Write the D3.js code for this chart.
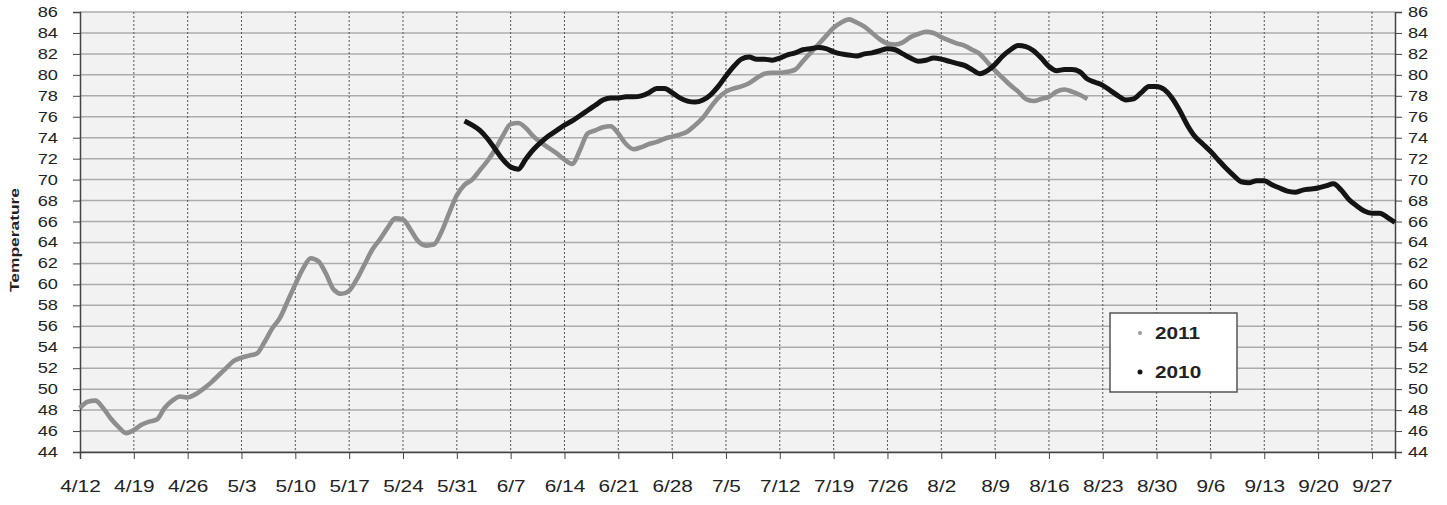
<!DOCTYPE html>
<html>
<head>
<meta charset="utf-8">
<style>
    body {margin:0; background:#fff;}
    text {font-family:"Liberation Sans", Arial, sans-serif;}
</style>
<script src="https://d3js.org/d3.v7.min.js"></script>
</head>
<body>
<script>
    // daily temperatures, 2011 starts 4/12, 2010 starts 6/1
    var start2011 = "2011-04-12";
    var temps2011 = [48.2, 48.8, 48.9, 48.2, 47.2, 46.4, 45.8, 46.1, 46.6, 46.9,
        47.1, 48.2, 48.9, 49.3, 49.2, 49.5, 50.0, 50.6, 51.3, 52.0,
        52.7, 53.0, 53.2, 53.4, 54.5, 55.8, 56.8, 58.4, 60.0, 61.5,
        62.5, 62.2, 61.0, 59.5, 59.1, 59.4, 60.5, 61.9, 63.3, 64.3,
        65.4, 66.3, 66.2, 65.2, 64.1, 63.7, 63.8, 65.0, 66.8, 68.5,
        69.5, 70.0, 70.9, 71.8, 72.9, 74.2, 75.3, 75.4, 74.9, 74.1,
        73.5, 73.0, 72.5, 71.9, 71.5, 72.8, 74.4, 74.7, 75.0, 75.1,
        74.4, 73.4, 72.9, 73.1, 73.4, 73.6, 73.9, 74.1, 74.3, 74.6,
        75.2, 75.9, 76.9, 77.8, 78.4, 78.7, 78.9, 79.2, 79.7, 80.1,
        80.2, 80.2, 80.3, 80.5, 81.3, 82.1, 82.9, 83.7, 84.5, 85.0,
        85.3, 85.0, 84.6, 84.0, 83.4, 83.0, 82.9, 83.1, 83.6, 83.9,
        84.1, 84.0, 83.6, 83.3, 83.0, 82.8, 82.4, 82.0, 81.2, 80.4,
        79.7, 79.0, 78.4, 77.7, 77.5, 77.7, 77.9, 78.4, 78.6, 78.4,
        78.1, 77.7];

    var start2010 = "2011-06-01";
    var temps2010 = [75.6, 75.2, 74.7, 73.9, 72.9, 71.9, 71.2, 71.0, 72.0, 72.9,
        73.6, 74.2, 74.7, 75.2, 75.6, 76.1, 76.6, 77.1, 77.6, 77.8,
        77.8, 77.9, 77.9, 78.0, 78.3, 78.7, 78.7, 78.3, 77.8, 77.5,
        77.4, 77.6, 78.1, 78.9, 79.9, 80.8, 81.5, 81.7, 81.5, 81.5,
        81.4, 81.6, 81.9, 82.1, 82.4, 82.5, 82.6, 82.5, 82.2, 82.0,
        81.9, 81.8, 82.0, 82.1, 82.3, 82.5, 82.4, 82.0, 81.6, 81.3,
        81.4, 81.6, 81.5, 81.3, 81.1, 80.9, 80.5, 80.1, 80.4, 81.0,
        81.8, 82.4, 82.8, 82.7, 82.3, 81.6, 80.8, 80.4, 80.5, 80.5,
        80.3, 79.6, 79.3, 79.0, 78.5, 78.0, 77.6, 77.7, 78.3, 78.9,
        78.9, 78.6, 77.8, 76.6, 75.2, 74.1, 73.4, 72.7, 71.9, 71.1,
        70.4, 69.8, 69.7, 69.9, 69.9, 69.5, 69.2, 68.9, 68.8, 69.0,
        69.1, 69.2, 69.4, 69.6, 69.0, 68.1, 67.5, 67.0, 66.8, 66.8,
        66.4, 65.9];

    var xTickLabels = ["4/12","4/19","4/26","5/3","5/10","5/17","5/24","5/31","6/7","6/14",
        "6/21","6/28","7/5","7/12","7/19","7/26","8/2","8/9","8/16","8/23",
        "8/30","9/6","9/13","9/20","9/27"];
    var yTicks = d3.range(44, 87, 2);
    var legendNames = ["2011", "2010"];

    var width = 1447, height = 505;
    var pLeft = 80, pRight = 1395, pTop = 12, pBottom = 452;
    var stretch = 1.3;   // picture is wider than the font

    var parse = d3.timeParse("%Y-%m-%d");
    var toDate = function(s){ return parse("2011-" + s.replace("/", "-")); };

    var x = d3.scaleTime()
        .domain([parse("2011-04-12"), parse("2011-09-30")])
        .range([pLeft, pRight]);
    var y = d3.scaleLinear().domain([44, 86]).range([pBottom, pTop]);

    function series(startStr, vals){
        var s = parse(startStr);
        return vals.map(function(v, i){ return {date: d3.timeDay.offset(s, i), t: v}; });
    }
    var s2011 = series(start2011, temps2011);
    var s2010 = series(start2010, temps2010);

    var svg = d3.select("body").append("svg")
        .attr("width", width)
        .attr("height", height);

    svg.append("rect")
        .attr("x", pLeft).attr("y", pTop)
        .attr("width", pRight - pLeft).attr("height", pBottom - pTop)
        .attr("fill", "#f2f2f2");

    // horizontal grid
    svg.append("g")
        .selectAll("line")
        .data(yTicks)
        .join("line")
        .attr("x1", pLeft).attr("x2", pRight)
        .attr("y1", d => y(d)).attr("y2", d => y(d))
        .attr("stroke", "#acacac")
        .attr("stroke-width", 1.5);

    // vertical dashed grid
    svg.append("g")
        .selectAll("line")
        .data(xTickLabels.slice(1))
        .join("line")
        .attr("x1", d => x(toDate(d))).attr("x2", d => x(toDate(d)))
        .attr("y1", pTop).attr("y2", pBottom)
        .attr("stroke", "#555")
        .attr("stroke-width", 1)
        .attr("stroke-dasharray", "2,2");

    // axes
    var xAxis = d3.axisBottom(x)
        .tickValues(xTickLabels.map(toDate))
        .tickFormat((d, i) => xTickLabels[i])
        .tickSize(7).tickPadding(22);
    svg.append("g")
        .attr("transform", `translate(0,${pBottom})`)
        .call(xAxis)
        .call(g => g.select(".domain").attr("stroke", "#444").attr("stroke-width", 1.5))
        .call(g => g.selectAll(".tick line").attr("stroke", "#444"))
        .call(g => g.selectAll("text")
            .attr("font-size", 16)
            .attr("fill", "#222")
            .attr("transform", `scale(${stretch},1)`));

    var yLeft = d3.axisLeft(y).tickValues(yTicks).tickSize(7);
    svg.append("g")
        .attr("transform", `translate(${pLeft},0)`)
        .call(yLeft)
        .call(g => g.select(".domain").attr("stroke", "#444").attr("stroke-width", 1.5))
        .call(g => g.selectAll(".tick line").attr("stroke", "#444"))
        .call(g => g.selectAll("text")
            .attr("x", -17)
            .attr("font-size", 14)
            .attr("fill", "#222")
            .attr("transform", `scale(${stretch},1)`));

    var yRight = d3.axisRight(y).tickValues(yTicks).tickSize(7);
    svg.append("g")
        .attr("transform", `translate(${pRight},0)`)
        .call(yRight)
        .call(g => g.select(".domain").attr("stroke", "#444").attr("stroke-width", 1.5))
        .call(g => g.selectAll(".tick line").attr("stroke", "#444"))
        .call(g => g.selectAll("text")
            .attr("x", 10)
            .attr("font-size", 14)
            .attr("fill", "#222")
            .attr("transform", `scale(${stretch},1)`));

    // y title
    svg.append("text")
        .attr("transform", "translate(19,240) rotate(-90)")
        .attr("text-anchor", "middle")
        .attr("font-size", 12)
        .attr("font-weight", "bold")
        .attr("fill", "#222")
        .attr("textLength", 104)
        .attr("lengthAdjust", "spacingAndGlyphs")
        .text("Temperature");

    // lines
    var line = d3.line()
        .x(d => x(d.date))
        .y(d => y(d.t))
        .curve(d3.curveMonotoneX);

    svg.append("path")
        .datum(s2011)
        .attr("fill", "none")
        .attr("stroke", "#8e8e8e")
        .attr("stroke-width", 4.6)
        .attr("stroke-linejoin", "round")
        .attr("d", line);

    svg.append("path")
        .datum(s2010)
        .attr("fill", "none")
        .attr("stroke", "#141414")
        .attr("stroke-width", 5)
        .attr("stroke-linejoin", "round")
        .attr("d", line);

    // legend
    var legend = svg.append("g").attr("transform", "translate(1110,313)");
    legend.append("rect")
        .attr("width", 127).attr("height", 79)
        .attr("fill", "#fff")
        .attr("stroke", "#555")
        .attr("stroke-width", 1.5);
    var item = legend.selectAll("g")
        .data(legendNames)
        .join("g")
        .attr("transform", (d, i) => `translate(0,${20 + i * 39})`);
    item.append("circle")
        .attr("cx", 30)
        .attr("r", (d, i) => i ? 2.5 : 2)
        .attr("fill", (d, i) => i ? "#141414" : "#9a9a9a");
    item.append("text")
        .attr("x", 45 / stretch)
        .attr("dy", "0.36em")
        .attr("font-size", 16)
        .attr("font-weight", "bold")
        .attr("fill", "#222")
        .attr("transform", `scale(${stretch},1)`)
        .text(d => d);
</script>
</body>
</html>
